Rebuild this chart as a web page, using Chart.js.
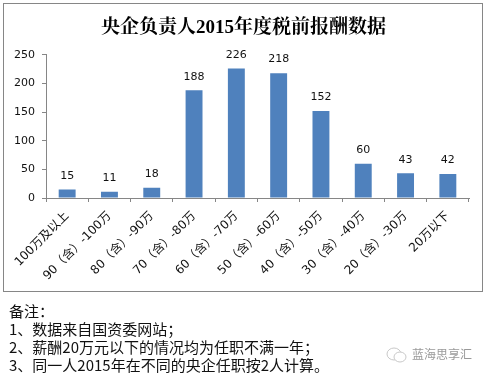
<!DOCTYPE html>
<html lang="zh">
<head>
<meta charset="utf-8">
<script src="https://cdn.jsdelivr.net/npm/chart.js@4"></script>
<style>
html,body{margin:0;padding:0;background:#fff;width:487px;height:376px;overflow:hidden}
#frame{position:absolute;left:3px;top:3px;width:478px;height:287px;border:1.5px solid #868686;box-sizing:content-box}
#c{position:absolute;left:0;top:0}
#notes{position:absolute;left:9px;top:302px;font:15px/18px "Noto Sans CJK SC",sans-serif;color:#111;white-space:pre}
#wm{position:absolute;left:412px;top:345px;font:12px/18px "Noto Sans CJK SC",sans-serif;color:#999;white-space:pre}
#ic{position:absolute;left:386px;top:346px}
</style>
</head>
<body>
<div id="frame"></div>
<canvas id="c" width="487" height="376"></canvas>
<div id="notes"></div>
<svg id="ic" width="22" height="18"><ellipse cx="8" cy="8" rx="7" ry="6" fill="none" stroke="#c8c8c8"/><ellipse cx="14" cy="11" rx="6" ry="5" fill="#fff" stroke="#c8c8c8"/></svg>
<div id="wm"></div>
<script>
const titleText = "央企负责人2015年度税前报酬数据";
const categories = ["100万及以上","90（含）-100万","80（含）-90万","70（含）-80万","60（含）-70万","50（含）-60万","40（含）-50万","30（含）-40万","20（含）-30万","20万以下"];
const values = [15,11,18,188,226,218,152,60,43,42];
const yTicks = [0,50,100,150,200,250];
const noteLines = ["备注：","1、数据来自国资委网站；","2、薪酬20万元以下的情况均为任职不满一年；","3、同一人2015年在不同的央企任职按2人计算。"];
const watermark = "蓝海思享汇";

document.getElementById("notes").textContent = noteLines.join("\n");
document.getElementById("wm").textContent = watermark;

const tickFont = {family:'"DejaVu Sans","Noto Sans CJK SC",sans-serif', size:11};
const xTickFont = {family:'"DejaVu Sans","Noto Sans CJK SC",sans-serif', size:12};
const dataLabels = {
  id:"dataLabels",
  afterDatasetsDraw(chart){
    const {ctx} = chart, meta = chart.getDatasetMeta(0);
    ctx.save();
    ctx.font = '11px "DejaVu Sans",sans-serif';
    ctx.fillStyle = "#111";
    ctx.textAlign = "center";
    ctx.textBaseline = "bottom";
    meta.data.forEach((b,i)=>ctx.fillText(String(values[i]), b.x, b.y-8));
    ctx.restore();
  }
};
new Chart(document.getElementById("c"),{
  type:"bar",
  data:{labels:categories,datasets:[{data:values,backgroundColor:"#4F81BD",categoryPercentage:1,barPercentage:0.4}]},
  plugins:[dataLabels],
  options:{
    responsive:false,animation:false,
    layout:{padding:0},
    plugins:{
      legend:{display:false},tooltip:{enabled:false},
      title:{display:true,text:titleText,color:"#000",
        font:{family:'"Liberation Serif","Noto Serif CJK SC","Noto Sans CJK SC",serif',size:19,weight:"bold"},
        padding:{top:17,bottom:15}}
    },
    scales:{
      x:{
        afterFit(s){s.height=178;s.paddingLeft=0;s.paddingRight=18;},
        border:{color:"#868686"},
        grid:{drawOnChartArea:false,color:"#868686",tickLength:4},
        ticks:{minRotation:45,maxRotation:45,autoSkip:false,color:"#111",font:xTickFont,padding:7}
      },
      y:{
        min:0,max:250,
        afterFit(s){s.width=46;s.paddingTop=0;s.paddingBottom=0;},
        afterBuildTicks(s){s.ticks=yTicks.map(v=>({value:v}));},
        border:{color:"#868686"},
        grid:{drawOnChartArea:false,color:"#868686",tickLength:4},
        ticks:{color:"#111",font:tickFont,padding:7}
      }
    }
  }
});
</script>
</body>
</html>
